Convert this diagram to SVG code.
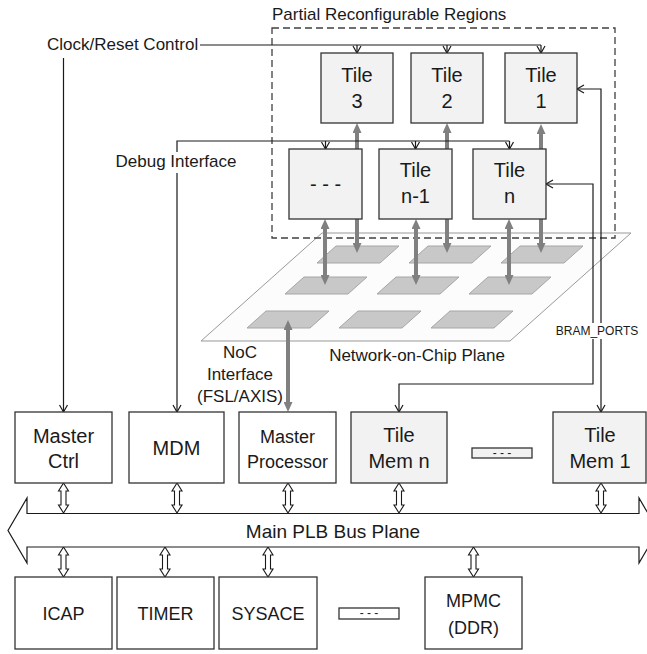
<svg xmlns="http://www.w3.org/2000/svg" width="647" height="654" viewBox="0 0 647 654">
<style>
text{font-family:"Liberation Sans",Arial,sans-serif;fill:#1a1a1a;text-anchor:middle}
.lbl{font-size:17px}
.lbl-s{font-size:12px}
.bt{font-size:20px}
.bt-s{font-size:18px}
.dot{font-size:12px}
.box{fill:#ffffff;stroke:#333;stroke-width:1.3}
.tile{fill:#f2f2f2;stroke:#333;stroke-width:1.3}
.cell{fill:#c8c8c8;stroke:#a6a6a6;stroke-width:1}
.thin{fill:none;stroke:#1a1a1a;stroke-width:1.2}
.gray{fill:none;stroke:#808080;stroke-width:4}
.dbl{fill:#fff;stroke:#1a1a1a;stroke-width:1.1}
.bg{fill:#fff}
</style>
<defs>
<marker id="ah" markerUnits="userSpaceOnUse" markerWidth="10" markerHeight="10" viewBox="0 0 10 10" refX="8" refY="5" orient="auto-start-reverse">
<path d="M1,1 L8,5 L1,9" fill="none" stroke="#1a1a1a" stroke-width="1.2"/>
</marker>
<marker id="gh" markerUnits="userSpaceOnUse" markerWidth="10" markerHeight="9" viewBox="0 0 10 9" refX="1" refY="4.5" orient="auto-start-reverse">
<path d="M0,0 L10,4.5 L0,9 Z" fill="#808080"/>
</marker>
<path id="dbl" d="M0,0 L5,8 L2.5,8 L2.5,22 L5,22 L0,30 L-5,22 L-2.5,22 L-2.5,8 L-5,8 Z"/>
</defs>

<g id="noc-plane">
<polygon points="201,341 510,341 631,233 322,233" fill="#fcfcfc" stroke="#999" stroke-width="1"/>
<polygon class="cell" points="317,263 380,263 399,246 336,246"/>
<polygon class="cell" points="409,263 472,263 491,246 428,246"/>
<polygon class="cell" points="501,263 564,263 583,246 520,246"/>
<polygon class="cell" points="285,294 348,294 367,277 304,277"/>
<polygon class="cell" points="377,294 440,294 459,277 396,277"/>
<polygon class="cell" points="469,294 532,294 551,277 488,277"/>
<polygon class="cell" points="247,328 310,328 329,311 266,311"/>
<polygon class="cell" points="339,328 402,328 421,311 358,311"/>
<polygon class="cell" points="431,328 494,328 513,311 450,311"/>
<text class="lbl" x="417" y="361">Network-on-Chip Plane</text>
</g>

<g id="pr-region">
<rect x="272" y="28" width="343" height="210" fill="none" stroke="#404040" stroke-width="1.3" stroke-dasharray="7,4"/>
<text class="lbl" x="272" y="20" style="text-anchor:start">Partial Reconfigurable Regions</text>
</g>

<g id="connectors">
<line class="gray" x1="357" y1="132" x2="357" y2="244" marker-start="url(#gh)" marker-end="url(#gh)"/>
<line class="gray" x1="447" y1="132" x2="447" y2="244" marker-start="url(#gh)" marker-end="url(#gh)"/>
<line class="gray" x1="541" y1="133" x2="541" y2="244" marker-start="url(#gh)" marker-end="url(#gh)"/>
<line class="gray" x1="325" y1="228" x2="325" y2="276" marker-start="url(#gh)" marker-end="url(#gh)"/>
<line class="gray" x1="416" y1="228" x2="416" y2="276" marker-start="url(#gh)" marker-end="url(#gh)"/>
<line class="gray" x1="509" y1="228" x2="509" y2="276" marker-start="url(#gh)" marker-end="url(#gh)"/>
<line class="gray" x1="288" y1="329" x2="288" y2="403" marker-start="url(#gh)" marker-end="url(#gh)"/>

<path class="thin" d="M200,45 H541"/>
<path class="thin" d="M357,45 V53" marker-end="url(#ah)"/>
<path class="thin" d="M447,45 V53" marker-end="url(#ah)"/>
<path class="thin" d="M541,45 V53" marker-end="url(#ah)"/>
<path class="thin" d="M63.5,58 V412" marker-end="url(#ah)"/>

<path class="thin" d="M177,412 V141 H509.5" marker-start="url(#ah)"/>
<path class="thin" d="M325.5,141 V149" marker-end="url(#ah)"/>
<path class="thin" d="M415.5,141 V149" marker-end="url(#ah)"/>
<path class="thin" d="M509.5,141 V149" marker-end="url(#ah)"/>

<path class="thin" d="M546,184 H593 V384 H399 V412" marker-start="url(#ah)" marker-end="url(#ah)"/>
<path class="thin" d="M577,89 H601 V412" marker-start="url(#ah)" marker-end="url(#ah)"/>

<use href="#dbl" class="dbl" x="63.5" y="483"/>
<use href="#dbl" class="dbl" x="177" y="483"/>
<use href="#dbl" class="dbl" x="288" y="483"/>
<use href="#dbl" class="dbl" x="399" y="483"/>
<use href="#dbl" class="dbl" x="601" y="483"/>
<use href="#dbl" class="dbl" x="63.5" y="547"/>
<use href="#dbl" class="dbl" x="165" y="547"/>
<use href="#dbl" class="dbl" x="268" y="547"/>
<use href="#dbl" class="dbl" x="473.5" y="547"/>
</g>

<g id="labels">
<text class="lbl" x="47" y="50" style="text-anchor:start">Clock/Reset Control</text>
<rect class="bg" x="113" y="152" width="126" height="21"/>
<text class="lbl" x="176" y="167">Debug Interface</text>
<text class="lbl" x="240" y="358">NoC</text>
<text class="lbl" x="240" y="380">Interface</text>
<text class="lbl" x="240" y="402">(FSL/AXIS)</text>
<rect class="bg" x="556" y="323" width="82" height="16"/>
<text class="lbl-s" x="597" y="335">BRAM_PORTS</text>
</g>

<g id="tile3"><rect class="tile" x="321" y="53" width="72" height="70"/><text class="bt" x="357" y="82">Tile</text><text class="bt" x="357" y="108">3</text></g>
<g id="tile2"><rect class="tile" x="411" y="53" width="72" height="70"/><text class="bt" x="447" y="82">Tile</text><text class="bt" x="447" y="108">2</text></g>
<g id="tile1"><rect class="tile" x="505" y="53" width="72" height="70"/><text class="bt" x="541" y="82">Tile</text><text class="bt" x="541" y="108">1</text></g>
<g id="tile-more"><rect class="tile" x="289" y="149" width="73" height="70"/><text class="bt" x="325.5" y="191">- - -</text></g>
<g id="tile-n-1"><rect class="tile" x="379" y="149" width="73" height="70"/><text class="bt" x="415.5" y="177">Tile</text><text class="bt" x="415.5" y="203">n-1</text></g>
<g id="tile-n"><rect class="tile" x="473" y="149" width="73" height="70"/><text class="bt" x="509.5" y="177">Tile</text><text class="bt" x="509.5" y="203">n</text></g>

<g id="master-ctrl"><rect class="box" x="15" y="412" width="97" height="71"/><text class="bt" x="63.5" y="443">Master</text><text class="bt" x="63.5" y="468">Ctrl</text></g>
<g id="mdm"><rect class="box" x="129" y="412" width="95" height="71"/><text class="bt" x="176.5" y="455">MDM</text></g>
<g id="master-processor"><rect class="box" x="239" y="412" width="97" height="71"/><text class="bt-s" x="287.5" y="443">Master</text><text class="bt-s" x="287.5" y="468">Processor</text></g>
<g id="tile-mem-n"><rect class="tile" x="351" y="412" width="96" height="71"/><text class="bt" x="399" y="442">Tile</text><text class="bt" x="399" y="468">Mem n</text></g>
<g id="mem-more"><rect class="tile" x="472" y="448" width="60" height="10"/><text class="dot" x="502" y="457">- - -</text></g>
<g id="tile-mem-1"><rect class="tile" x="553" y="412" width="93" height="71"/><text class="bt" x="600" y="442">Tile</text><text class="bt" x="600" y="468">Mem 1</text></g>

<g id="plb-bus">
<polygon points="27,498 27,513.5 639,513.5 639,498 658,530.5 639,563 639,547 27,547 27,563 8,530.5" fill="#fff" stroke="#1a1a1a" stroke-width="1.2"/>
<text style="font-size:19px" x="333" y="538">Main PLB Bus Plane</text>
</g>

<g id="icap"><rect class="box" x="15" y="577" width="97" height="72"/><text class="bt-s" x="63.5" y="620">ICAP</text></g>
<g id="timer"><rect class="box" x="117" y="577" width="97" height="72"/><text class="bt-s" x="165.5" y="620">TIMER</text></g>
<g id="sysace"><rect class="box" x="219" y="577" width="98" height="72"/><text class="bt-s" x="268" y="620">SYSACE</text></g>
<g id="periph-more"><rect class="box" x="339" y="608" width="60" height="11"/><text class="dot" x="369" y="617">- - -</text></g>
<g id="mpmc"><rect class="box" x="425" y="577" width="97" height="72"/><text class="bt-s" x="473.5" y="607">MPMC</text><text class="bt-s" x="473.5" y="634">(DDR)</text></g>
</svg>
